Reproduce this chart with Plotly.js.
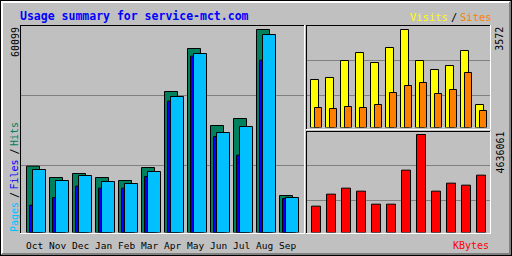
<!DOCTYPE html>
<html>
<head>
<meta charset="utf-8">
<script src="https://cdn.plot.ly/plotly-3.0.1.min.js"></script>
<style>html,body{margin:0;padding:0;background:#c0c0c0;}#chart{width:512px;height:256px;}</style>
</head>
<body>
<div id="chart"></div>
<script>
// ---- data ----
const months = ['Oct','Nov','Dec','Jan','Feb','Mar','Apr','May','Jun','Jul','Aug','Sep'];
const hits   = [19637,16282,17466,16282,15394,19243,41742,54472,31676,33749,60099,10954];
const files  = [18650,15394,16874,15098,14506,18058,40261,52991,29604,31380,58616,10361];
const pages  = [8092,10361,13717,13124,13124,16578,38880,52202,28420,22894,51018,10065];
const visits = [1750,1823,2442,2734,2369,2916,3572,2442,2114,2260,2807,838];
const sites  = [729,693,765,729,838,1276,1531,1640,1239,1385,2005,620];
const kbytes = [1245750,1813435,2097277,1955356,1340365,1340365,2948803,4636061,1955356,2333812,2239198,2712268];
const titleText = 'Usage summary for service-mct.com';

// ---- helpers ----
const W = 512, H = 256;
const idx = months.map((m, i) => i);
const px = x => x / W;
const py = y => 1 - y / H;
const maxHits = Math.max(...hits), maxVisits = Math.max(...visits), maxKB = Math.max(...kbytes);
const rMain = maxHits * 207 / 203;
const rTop = maxVisits * 102 / 98;
const rBot = maxKB * 101 / 98;

function bar(y, xa, ya, color, offset, width) {
  return {type: 'bar', x: idx, y: y, xaxis: xa, yaxis: ya, offset: offset, width: width,
    marker: {color: color, opacity: 1, line: {color: '#000000', width: 1}}, hoverinfo: 'none'};
}
const traces = [
  bar(hits,  'x', 'y', '#00805c', -7.5/23, 13/23),
  bar(pages, 'x', 'y', '#0000ff', -4.5/23, 13/23),
  bar(files, 'x', 'y', '#00c0ff', -1.5/23, 13/23),
  bar(visits, 'x2', 'y2', '#ffff00', -5.5/15, 8/15),
  bar(sites,  'x2', 'y2', '#ff8000', -1.5/15, 7/15),
  bar(kbytes, 'x3', 'y3', '#ff0000', -4.5/15, 9/15)
];

function hl(x0, x1, row, c) {
  return {type: 'line', xref: 'paper', yref: 'paper', layer: 'above', x0: px(x0), x1: px(x1 + 1),
    y0: py(row + 0.5), y1: py(row + 0.5), line: {color: c, width: 1}};
}
function vl(col, y0, y1, c) {
  return {type: 'line', xref: 'paper', yref: 'paper', layer: 'above', x0: px(col + 0.5), x1: px(col + 0.5),
    y0: py(y0), y1: py(y1 + 1), line: {color: c, width: 1}};
}
const shapes = [
  // outer bevel
  hl(1, 510, 1, '#ffffff'), vl(1, 1, 254, '#ffffff'),
  hl(2, 509, 2, '#ffffff'), vl(2, 2, 253, '#ffffff'),
  hl(2, 510, 253, '#808080'), vl(509, 2, 254, '#808080'),
  hl(1, 510, 254, '#808080'), vl(510, 1, 254, '#808080'),
  hl(0, 511, 0, '#000000'), hl(0, 511, 255, '#000000'),
  vl(0, 0, 255, '#000000'), vl(511, 0, 255, '#000000'),
  // main panel
  hl(20, 304, 25, '#000000'), vl(20, 25, 233, '#000000'),
  vl(304, 25, 233, '#ffffff'), hl(20, 304, 233, '#ffffff'),
  // top right panel
  hl(306, 490, 25, '#000000'), vl(306, 25, 129, '#000000'),
  vl(490, 25, 129, '#ffffff'), hl(306, 490, 129, '#ffffff'),
  // bottom right panel
  hl(306, 490, 131, '#000000'), vl(306, 131, 233, '#000000'),
  vl(490, 131, 233, '#ffffff'), hl(306, 490, 233, '#ffffff')
];

const mono = 'DejaVu Sans Mono, monospace';
function ann(text, x, y, color, opts) {
  return Object.assign({text: text, xref: 'paper', yref: 'paper', x: px(x), y: py(y),
    showarrow: false, xanchor: 'center', yanchor: 'middle', borderpad: 0,
    font: {family: mono, size: 10, color: color}}, opts || {});
}
const annotations = [
  ann(titleText, 19, 15.5, '#0000ff', {xanchor: 'left', font: {family: mono, size: 11.5, color: '#0000ff', weight: 'bold'}}),
  ann('Visits', 449, 16.5, '#ffff00', {xanchor: 'right', font: {family: mono, size: 10.5, color: '#ffff00'}}),
  ann('/', 454, 16.5, '#000000', {font: {family: mono, size: 10.5, color: '#000000'}}),
  ann('Sites', 459, 16.5, '#ff8000', {xanchor: 'left', font: {family: mono, size: 10.5, color: '#ff8000'}}),
  ann('Pages', 14, 217, '#00c0ff', {textangle: -90}),
  ann('/', 14, 195, '#000000', {textangle: -90}),
  ann('Files', 14, 174.5, '#0000ff', {textangle: -90}),
  ann('/', 14, 151.5, '#000000', {textangle: -90}),
  ann('Hits', 14, 134, '#00805c', {textangle: -90}),
  ann(String(maxHits), 15, 42, '#000000', {textangle: -90}),
  ann(String(maxVisits), 500, 38.7, '#000000', {textangle: -90}),
  ann(String(maxKB), 500, 152.5, '#000000', {textangle: -90}),
  ann('KBytes', 490, 245, '#ff0000', {xanchor: 'right'})
].concat(months.map((m, i) => ({
  text: m, xref: 'x', yref: 'paper', x: i, y: py(245.5), showarrow: false,
  xanchor: 'center', yanchor: 'middle', borderpad: 0,
  font: {family: mono, size: 9.5, color: '#000000'}
})));

const noAxis = {showline: false, zeroline: false, ticks: '', fixedrange: true};
const layout = {
  width: W, height: H, margin: {l: 0, r: 0, t: 0, b: 0, pad: 0},
  paper_bgcolor: '#c0c0c0', plot_bgcolor: '#c0c0c0',
  showlegend: false, barmode: 'overlay',
  xaxis: Object.assign({}, noAxis, {domain: [px(20), px(305)], range: [(20 - 34) / 23, (305 - 34) / 23],
    showticklabels: false, showgrid: false, anchor: 'y'}),
  yaxis: Object.assign({}, noAxis, {domain: [py(232.5), py(25.5)], range: [0, rMain],
    tickmode: 'array', tickvals: [rMain * 67 / 207, rMain * 137 / 207], showticklabels: false,
    showgrid: true, gridcolor: '#808080', gridwidth: 1, anchor: 'x'}),
  xaxis2: Object.assign({}, noAxis, {domain: [px(306), px(490)], range: [(306 - 316) / 15, (490 - 316) / 15],
    showticklabels: false, showgrid: false, anchor: 'y2'}),
  yaxis2: Object.assign({}, noAxis, {domain: [py(127.5), py(25.5)], range: [0, rTop],
    tickmode: 'array', tickvals: [rTop * 32 / 102, rTop * 67 / 102], showticklabels: false,
    showgrid: true, gridcolor: '#808080', gridwidth: 1, anchor: 'x2'}),
  xaxis3: Object.assign({}, noAxis, {domain: [px(306), px(490)], range: [(306 - 316) / 15, (490 - 316) / 15],
    showticklabels: false, showgrid: false, anchor: 'y3'}),
  yaxis3: Object.assign({}, noAxis, {domain: [py(232.5), py(131.5)], range: [0, rBot],
    tickmode: 'array', tickvals: [rBot * 32 / 101, rBot * 67 / 101], showticklabels: false,
    showgrid: true, gridcolor: '#808080', gridwidth: 1, anchor: 'x3'}),
  shapes: shapes,
  annotations: annotations
};
Plotly.newPlot('chart', traces, layout, {staticPlot: true, displayModeBar: false});
</script>
</body>
</html>
